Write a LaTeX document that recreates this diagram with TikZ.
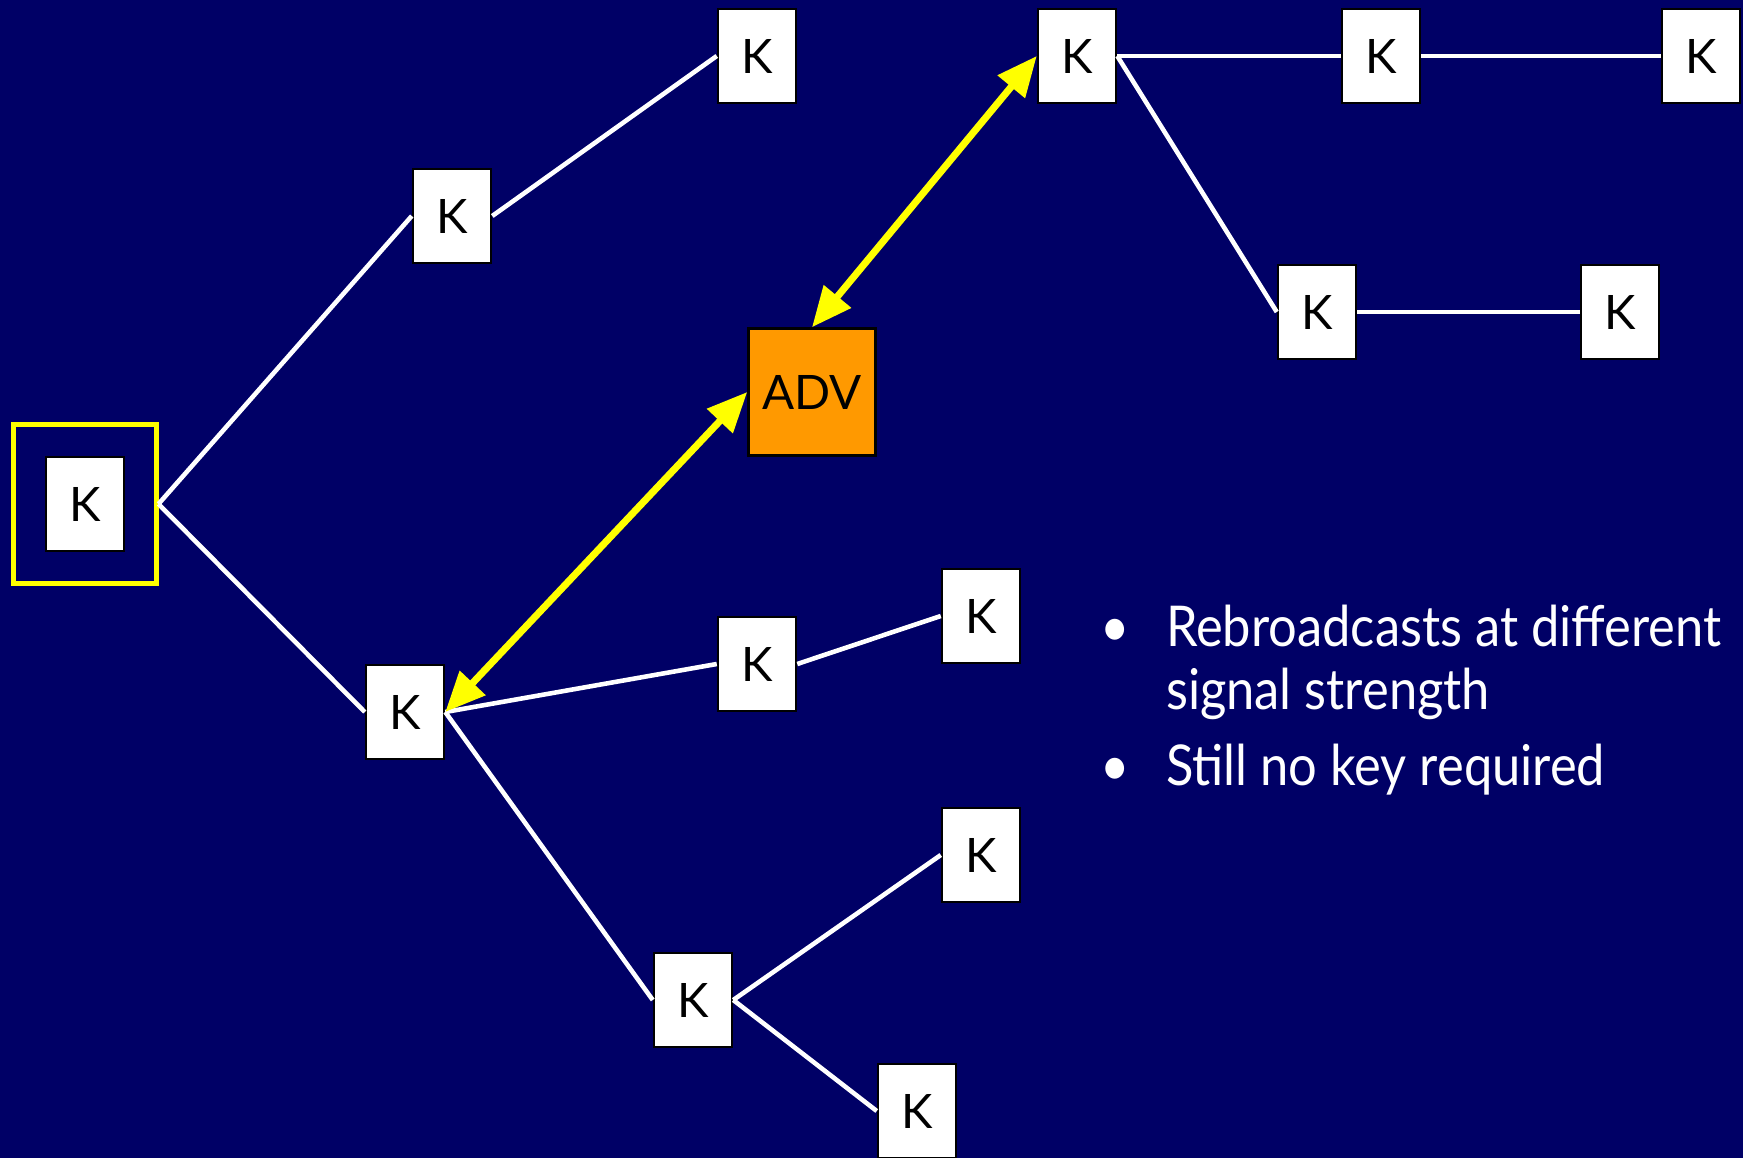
\documentclass[tikz,border=0pt]{standalone}
\usepackage{fontspec}
\setmainfont{Lato}
\newfontfamily\notesfont[FakeStretch=0.9]{Lato}
\usetikzlibrary{arrows.meta}
\definecolor{slidenavy}{RGB}{0,0,102}
\definecolor{advorange}{RGB}{255,153,0}
\definecolor{warnyellow}{RGB}{255,255,0}
\tikzset{
    keybox/.style={rectangle, draw=black, fill=white, line width=0.7pt, minimum width=0.78cm, minimum height=0.94cm, inner sep=0pt, font=\fontsize{13.5}{14}\selectfont},
    advbox/.style={keybox, fill=advorange, minimum width=1.27cm, minimum height=1.27cm},
    rootframe/.style={rectangle, draw=warnyellow, line width=1.4pt, minimum width=1.42cm, minimum height=1.58cm, inner sep=0pt},
    link/.style={draw=white, line width=1.3pt},
    attack/.style={{Triangle[length=4mm,width=3.4mm]}-{Triangle[length=4mm,width=3.4mm]}, draw=warnyellow, fill=warnyellow, line width=2pt},
    notes/.style={text=white, font=\notesfont\fontsize{16}{18}\selectfont, align=left, anchor=base west, inner sep=0pt}
}

\begin{document}
\begin{tikzpicture}[x=0.01cm, y=-0.01cm]

\fill[slidenavy] (0,0) rectangle (1743,1158);
\useasboundingbox (0,0) rectangle (1743,1158);

% origin of the broadcast
\node[rootframe] (frame) at (85,504) {};
\node[keybox] (root) at (85,504) {K};

% upper branch
\node[keybox] (u1) at (452,216) {K};
\node[keybox] (u2) at (757,56) {K};
\node[keybox] (v1) at (1077,56) {K};
\node[keybox] (v2) at (1381,56) {K};
\node[keybox] (v3) at (1701,56) {K};
\node[keybox] (w1) at (1317,312) {K};
\node[keybox] (w2) at (1620,312) {K};

% lower branch
\node[keybox] (l1) at (405,712) {K};
\node[keybox] (l2) at (757,664) {K};
\node[keybox] (l3) at (981,616) {K};
\node[keybox] (l4) at (693,1000) {K};
\node[keybox] (l5) at (981,855) {K};
\node[keybox] (l6) at (917,1111) {K};

\node[advbox] (adv) at (812,392) {ADV};

\draw[link] (frame.east) -- (u1.west);
\draw[link] (frame.east) -- (l1.west);
\draw[link] (u1.east) -- (u2.west);
\draw[link] (v1.east) -- (v2.west);
\draw[link] (v2.east) -- (v3.west);
\draw[link] (v1.east) -- (w1.west);
\draw[link] (w1.east) -- (w2.west);
\draw[link] (l1.east) -- (l2.west);
\draw[link] (l2.east) -- (l3.west);
\draw[link] (l1.east) -- (l4.west);
\draw[link] (l4.east) -- (l5.west);
\draw[link] (l4.east) -- (l6.west);

\draw[attack] (adv.north) -- (v1.west);
\draw[attack] (adv.west) -- (l1.east);

\node[notes] (points) at (1100,646) {\begin{tabular}[t]{@{}l@{\hspace{0.36cm}}l@{}}
\textbullet & Rebroadcasts at different\\
 & signal strength\\[0.13cm]
\textbullet & Still no key required
\end{tabular}};

\end{tikzpicture}
\end{document}
